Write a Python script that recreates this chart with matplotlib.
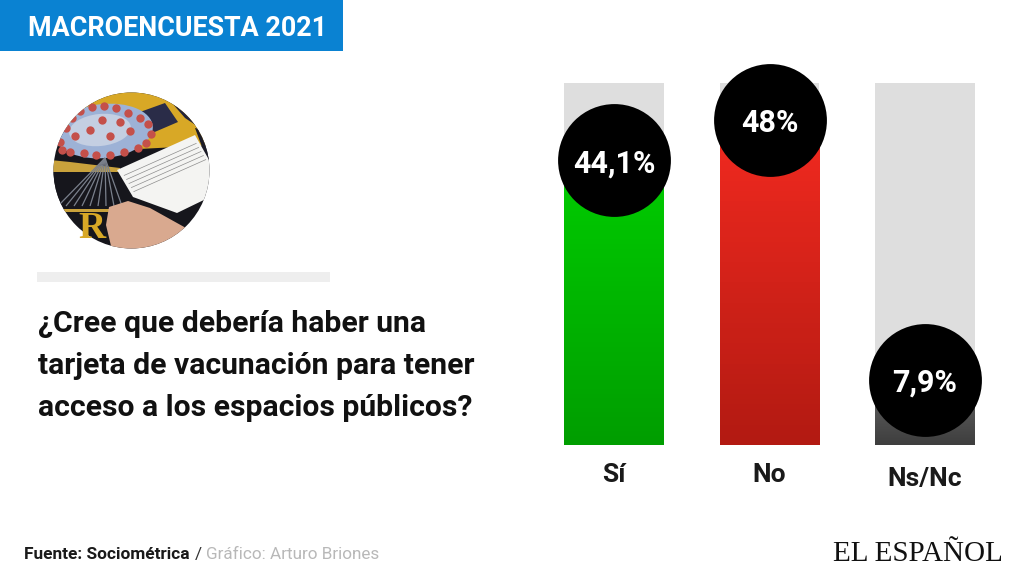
#!/usr/bin/env python3
"""Macroencuesta 2021: tarjeta de vacunacion, barras con burbujas de porcentaje."""

import matplotlib

matplotlib.use("Agg")

import matplotlib.pyplot as plt
import numpy as np
from matplotlib.colors import LinearSegmentedColormap
from matplotlib.patches import Circle, Ellipse, Polygon, Rectangle

CATEGORIES = ["Sí", "No", "Ns/Nc"]
VALUES = [44.1, 48.0, 7.9]
VALUE_LABELS = ["44,1%", "48%", "7,9%"]
# height of each bubble centre on the value scale
BUBBLE_LEVELS = [42.1, 48.0, 9.6]
TRACK_MAX = 53.5

QUESTION = [
    "¿Cree que debería haber una",
    "tarjeta de vacunación para tener",
    "acceso a los espacios públicos?",
]
QUESTION_Y = [324.5, 366.5, 408.5]

GRADIENTS = [("#00cf00", "#009e00"), ("#f22a20", "#b31a12"), ("#606060", "#3e3e3e")]
TRACK_COLOR = "#dedede"
ROBOTO = ["Roboto", "DejaVu Sans"]
SERIF = ["Liberation Serif", "DejaVu Serif"]

SPOTS_X = [60, 66, 72, 80, 92, 104, 116, 128, 140, 148, 151, 146, 138, 124, 110, 96, 84, 70, 62,
           90, 110, 130, 75, 102, 120]
SPOTS_Y = [142, 128, 118, 111, 107, 106, 108, 113, 118, 124, 134, 143, 148, 152, 155, 155, 153, 152, 150,
           130, 136, 131, 136, 120, 122]
RAY_ENDS = [58, 66, 74, 82, 90, 98, 106, 114, 122]


def draw_photo(ax):
    cx, cy, r = 131.5, 170.5, 78
    clip = Circle((cx, cy), r, transform=ax.transData)

    def add(patch):
        ax.add_patch(patch)
        patch.set_clip_path(clip)

    add(Rectangle((50, 90), 165, 165, color="#16161c", lw=0))
    add(Polygon([(80, 90), (215, 90), (215, 145), (120, 150), (60, 125)], color="#d8a826", lw=0))
    add(Polygon([(140, 112), (165, 103), (178, 122), (150, 134)], color="#2a2c48", lw=0))
    add(Polygon([(172, 103), (190, 112), (200, 128), (185, 118)], color="#23233a", lw=0))
    add(Polygon([(195, 128), (215, 132), (215, 170), (205, 155)], color="#1c1c28", lw=0))
    add(Polygon([(50, 160), (70, 162), (120, 168), (120, 172), (50, 172)], color="#c9a23c", lw=0))
    add(Rectangle((50, 172), 80, 38, color="#16161c", lw=0))

    # rays under the virus
    for x_end in RAY_ENDS:
        ax.plot([105, x_end], [158, 206], color="#7a808c", lw=0.9, solid_capstyle="butt", clip_path=clip)
    add(Rectangle((50, 209), 70, 3, color="#c9a23c", lw=0))

    # virus
    add(Ellipse((104, 131), 98, 54, angle=-6, color="#9db2d6", lw=0))
    add(Ellipse((100, 130), 62, 32, angle=-6, color="#c4cfe2", lw=0))
    ax.scatter(SPOTS_X, SPOTS_Y, s=36, color="#c4504a", linewidths=0, clip_path=clip, zorder=3)

    # vaccination card and hand
    card = Polygon([(117, 170), (195, 135), (213, 167), (210, 197), (177, 213), (133, 197)],
                   color="#f4f4f2", lw=0, zorder=4)
    add(card)
    for frac in [0.2, 0.35, 0.5, 0.65, 0.8]:
        x0, y0 = 117 + 16 * frac + 4, 170 + 27 * frac
        ax.plot([x0, x0 + 72], [y0, y0 - 32], color="#8d8d8d", lw=0.5, zorder=5, clip_path=clip)
    letter = ax.text(92, 228, "R", color="#d8a826", fontsize=27, fontweight="bold", family=SERIF,
                     ha="center", va="center", zorder=5)
    letter.set_clip_path(clip)
    hand = Polygon([(109, 207), (128, 201), (150, 208), (186, 228), (170, 242), (135, 252), (112, 250), (106, 225)],
                   color="#d9a98f", lw=0, zorder=6)
    add(hand)


def main():
    fig = plt.figure(figsize=(10.24, 5.76), dpi=100, facecolor="white")

    # everything that is not the chart lives in a pixel-sized overlay
    bg = fig.add_axes([0, 0, 1, 1])
    bg.set_xlim(0, 1024)
    bg.set_ylim(576, 0)
    bg.axis("off")

    bg.add_patch(Rectangle((0, 0), 343, 51, color="#0a82d2", lw=0))
    bg.text(28, 28, "MACROENCUESTA 2021", color="white", fontsize=19.4, fontweight="bold",
            family=ROBOTO, va="center")
    draw_photo(bg)
    bg.add_patch(Rectangle((37, 272), 293, 10, color="#eeeeee", lw=0))
    for line, y in zip(QUESTION, QUESTION_Y):
        bg.text(38, y, line, color="#111111", fontsize=21.7, fontweight="bold", family=ROBOTO, va="center")

    bg.text(24, 554.5, "Fuente: Sociométrica", color="#1a1a1a", fontsize=12.4, fontweight="bold",
            family=ROBOTO, va="center")
    bg.text(195, 554.5, "/", color="#333333", fontsize=12.4, family=ROBOTO, va="center")
    bg.text(206, 554.5, "Gráfico: Arturo Briones", color="#b8b8b8", fontsize=12.35, family=ROBOTO, va="center")
    bg.text(1003, 561, "EL ESPAÑOL", color="#111111", fontsize=21, family=SERIF, ha="right", va="baseline")

    # chart
    ax = fig.add_axes([536.25 / 1024, 131 / 576, 466.5 / 1024, 362 / 576])
    ax.patch.set_alpha(0)
    positions = np.arange(len(CATEGORIES))
    bar_width = 0.643

    ax.bar(positions, [TRACK_MAX] * len(CATEGORIES), width=bar_width, color=TRACK_COLOR, zorder=1)
    bars = ax.bar(positions, VALUES, width=bar_width, color="none", zorder=2)
    for bar, (top, bottom) in zip(bars, GRADIENTS):
        cmap = LinearSegmentedColormap.from_list("fade", [top, bottom])
        x0, x1 = bar.get_x(), bar.get_x() + bar.get_width()
        ax.imshow(np.linspace(0, 1, 64).reshape(-1, 1), cmap=cmap, aspect="auto", zorder=2,
                  extent=(x0, x1, 0, bar.get_height()), origin="upper")

    ax.scatter(positions, BUBBLE_LEVELS, s=6600, color="black", linewidths=0, zorder=3, clip_on=False)
    for x, y, label in zip(positions, BUBBLE_LEVELS, VALUE_LABELS):
        ax.text(x, y, label, color="white", fontsize=22, fontweight="bold", family=ROBOTO,
                ha="center", va="center_baseline", zorder=4)

    ax.set_xlim(-0.5, 2.5)
    ax.set_ylim(0, TRACK_MAX)
    ax.set_xticks(positions, CATEGORIES, fontsize=19, fontweight="bold", family=ROBOTO, color="#1a1a1a")
    ax.set_yticks([])
    ax.tick_params(axis="x", length=0, pad=13)
    ax.xaxis.get_major_ticks()[2].set_pad(15.5)
    for spine in ax.spines.values():
        spine.set_visible(False)

    fig.savefig("out.png", dpi=100)


if __name__ == "__main__":
    main()
